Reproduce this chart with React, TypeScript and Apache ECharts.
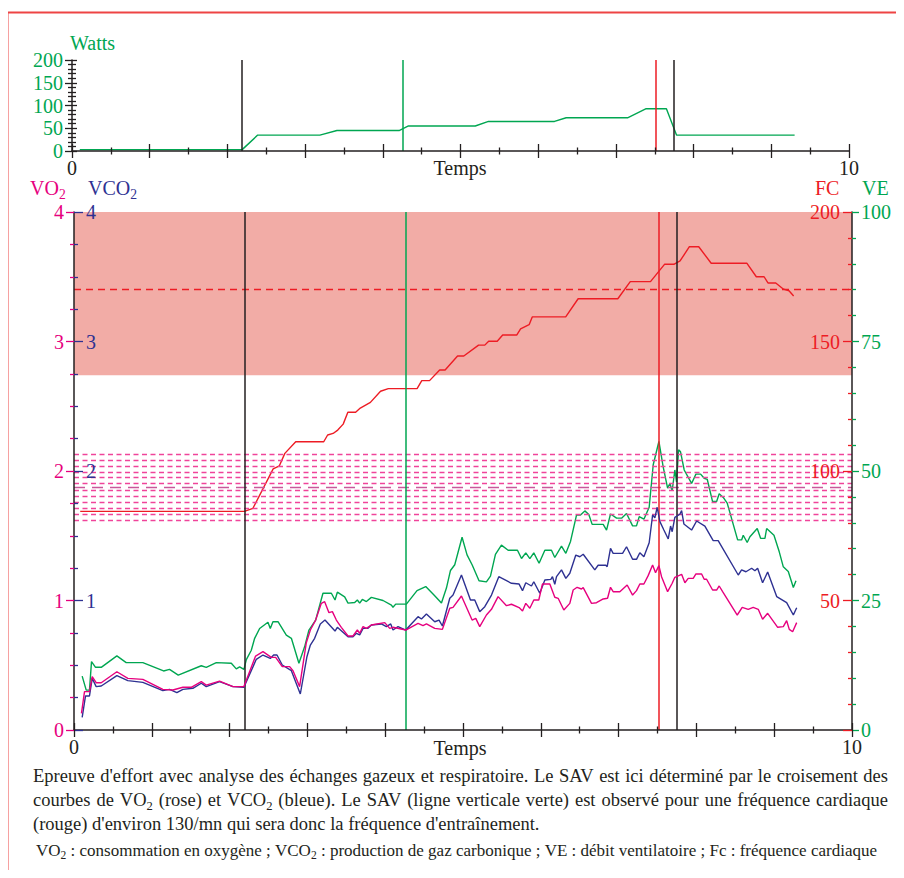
import React, { useEffect, useRef } from 'react';
import * as echarts from 'echarts';

const SERIF = "'Liberation Serif', 'Times New Roman', serif";
const INK = '#231f20';
const GREEN = '#00a651';
const MAGENTA = '#e6007e';
const NAVY = '#2e3192';
const RED = '#ed1c24';
const BAND = '#f2aca6';
const ZONE = '#f0449a';
const ZONE_MID = '#c9579a';
const FRAME = '#ee4444';

// Puissance sur ergocycle : [temps, watts]
const wattsPoints: [number, number][] = [
  [0.1, 3], [2.19, 3], [2.39, 35], [3.19, 35], [3.41, 45], [4.21, 45], [4.33, 55], [5.19, 55],
  [5.36, 65], [6.21, 65], [6.36, 73], [7.15, 73], [7.39, 93], [7.65, 93], [7.78, 35], [9.3, 35],
];

// Fréquence cardiaque : [temps, batt/min]
const fcPoints: [number, number][] = [
  [0.08, 84.4], [2.19, 84.4], [2.3, 85.6], [2.56, 100.8], [2.64, 102], [2.71, 106.8], [2.85, 111.3],
  [3.21, 111.3], [3.26, 113.9], [3.33, 114.5], [3.39, 115.8], [3.46, 118.1], [3.52, 122.7], [3.62, 122.7],
  [3.68, 124.3], [3.81, 126.5], [3.94, 130.8], [4.04, 131.8], [4.41, 131.8], [4.47, 134.9], [4.57, 134.9],
  [4.7, 139], [4.77, 139], [4.93, 144.4], [5.01, 144.4], [5.2, 148.6], [5.28, 148.6], [5.33, 150.1],
  [5.44, 150.1], [5.51, 152.5], [5.69, 152.5], [5.74, 154.9], [5.85, 156.5], [5.89, 159.5], [6.32, 159.5],
  [6.48, 166.5], [6.99, 166.5], [7.15, 173.1], [7.41, 173.1], [7.59, 179.8], [7.71, 179.8], [7.79, 181.1],
  [7.91, 186.6], [8.03, 186.6], [8.19, 180.2], [8.65, 180.2], [8.77, 175], [8.87, 175], [8.92, 172.6],
  [9.02, 172.6], [9.12, 170.2], [9.19, 169.6], [9.25, 167.6],
];

// Débit ventilatoire : [temps, L/min]
const vePoints: [number, number][] = [
  [0.105, 10.4], [0.157, 7.7], [0.199, 7.7], [0.225, 13.2], [0.277, 12.1], [0.35, 12.1], [0.551, 14.3],
  [0.671, 13.0], [0.885, 13.0], [1.151, 11.4], [1.228, 11.7], [1.34, 10.6], [1.636, 12.4], [1.7, 12.1],
  [1.829, 13.0], [2.022, 12.9], [2.086, 11.8], [2.129, 12.2], [2.184, 11.7], [2.215, 13.6], [2.279, 15.4],
  [2.322, 17.7], [2.386, 19.6], [2.493, 20.8], [2.523, 19.6], [2.557, 20.9], [2.622, 20.9], [2.729, 18.3],
  [2.794, 17.7], [2.891, 12.9], [2.965, 16.1], [3.02, 19.3], [3.106, 21.2], [3.2, 26.4], [3.308, 26.4],
  [3.355, 25.1], [3.385, 26.6], [3.479, 25.7], [3.522, 24.5], [3.608, 24.6], [3.642, 25.1], [3.672, 24.5],
  [3.706, 25.2], [3.758, 24.8], [3.822, 25.6], [3.972, 25.0], [4.08, 24.1], [4.1, 23.7], [4.135, 24.3],
  [4.272, 24.3], [4.409, 26.9], [4.521, 27.7], [4.624, 26.1], [4.723, 24.5], [4.787, 27.4], [4.839, 30.8],
  [4.894, 31.9], [4.988, 37.2], [5.052, 33.8], [5.117, 31.9], [5.206, 28.8], [5.301, 28.6], [5.353, 29.7],
  [5.417, 33.9], [5.494, 35.7], [5.58, 34.7], [5.7, 34.7], [5.752, 33.1], [5.807, 34.2], [5.859, 33.1],
  [5.91, 34.2], [5.978, 32.2], [6.052, 34.7], [6.137, 34.7], [6.18, 33.3], [6.266, 35.5], [6.322, 34.1],
  [6.382, 36.4], [6.459, 41.5], [6.51, 41.5], [6.566, 42.3], [6.617, 41.6], [6.66, 39.7], [6.802, 39.7],
  [6.845, 38.6], [6.896, 41.7], [6.974, 40.9], [7.038, 40.9], [7.102, 41.8], [7.18, 39.4], [7.23, 39.4],
  [7.265, 41.2], [7.325, 40.7], [7.393, 43.0], [7.445, 51.2], [7.518, 55.7], [7.573, 50.8], [7.63, 46.7],
  [7.659, 47.6], [7.689, 46.2], [7.723, 50.2], [7.745, 47.9], [7.771, 54.1], [7.796, 53.7], [7.843, 50.2],
  [7.938, 47.6], [7.994, 49.4], [8.054, 49.4], [8.1, 48.6], [8.139, 48.4], [8.208, 44.1], [8.26, 44.1],
  [8.293, 45.6], [8.345, 44.9], [8.396, 43.8], [8.53, 36.7], [8.581, 36.7], [8.602, 37.6], [8.653, 36.2],
  [8.688, 37.3], [8.782, 38.9], [8.825, 37.0], [8.881, 37.0], [8.903, 38.9], [8.997, 37.6], [9.065, 34.4],
  [9.117, 31.5], [9.181, 30.6], [9.246, 27.5], [9.28, 28.8],
];

// Production de CO2 : [temps, L/min]
const vco2Points: [number, number][] = [
  [0.105, 0.098], [0.148, 0.263], [0.199, 0.263], [0.234, 0.399], [0.285, 0.335], [0.35, 0.34],
  [0.551, 0.42], [0.692, 0.381], [0.885, 0.368], [1.142, 0.304], [1.228, 0.314], [1.322, 0.288],
  [1.4, 0.314], [1.528, 0.322], [1.636, 0.361], [1.7, 0.335], [1.871, 0.373], [2.043, 0.335], [2.184, 0.33],
  [2.343, 0.546], [2.429, 0.579], [2.523, 0.553], [2.566, 0.579], [2.609, 0.579], [2.677, 0.502],
  [2.794, 0.458], [2.909, 0.278], [2.994, 0.566], [3.038, 0.656], [3.093, 0.708], [3.166, 0.819],
  [3.226, 0.849], [3.355, 0.764], [3.385, 0.793], [3.522, 0.72], [3.586, 0.72], [3.629, 0.747],
  [3.672, 0.734], [3.715, 0.785], [3.779, 0.785], [3.822, 0.811], [3.951, 0.819], [4.015, 0.798],
  [4.071, 0.819], [4.1, 0.772], [4.165, 0.798], [4.264, 0.772], [4.422, 0.875], [4.466, 0.857],
  [4.53, 0.896], [4.637, 0.836], [4.692, 0.849], [4.735, 0.803], [4.83, 1.017], [4.872, 1.042],
  [4.98, 1.197], [5.096, 1.004], [5.151, 1.004], [5.215, 0.914], [5.28, 0.952], [5.366, 1.042],
  [5.46, 1.184], [5.559, 1.153], [5.623, 1.133], [5.721, 1.127], [5.765, 1.076], [5.807, 1.137],
  [5.88, 1.112], [5.91, 1.145], [5.987, 1.056], [6.052, 1.158], [6.129, 1.163], [6.15, 1.184],
  [6.18, 1.125], [6.202, 1.184], [6.266, 1.236], [6.322, 1.171], [6.373, 1.21], [6.45, 1.351],
  [6.502, 1.338], [6.545, 1.357], [6.694, 1.236], [6.737, 1.272], [6.836, 1.272], [6.853, 1.261],
  [6.896, 1.403], [6.93, 1.364], [7.051, 1.364], [7.102, 1.415], [7.18, 1.318], [7.23, 1.318],
  [7.273, 1.369], [7.325, 1.338], [7.393, 1.446], [7.437, 1.66], [7.466, 1.639], [7.496, 1.72],
  [7.531, 1.609], [7.582, 1.544], [7.638, 1.475], [7.668, 1.575], [7.689, 1.531], [7.723, 1.642],
  [7.787, 1.666], [7.81, 1.694], [7.839, 1.591], [7.938, 1.544], [8.003, 1.614], [8.109, 1.575],
  [8.216, 1.462], [8.28, 1.462], [8.538, 1.197], [8.581, 1.236], [8.637, 1.222], [8.71, 1.249],
  [8.752, 1.23], [8.787, 1.249], [8.851, 1.137], [8.916, 1.22], [9.032, 1.03], [9.16, 0.983],
  [9.246, 0.888], [9.289, 0.944],
];

// Consommation d'oxygène : [temps, L/min]
const vo2Points: [number, number][] = [
  [0.096, 0.129], [0.135, 0.296], [0.199, 0.296], [0.234, 0.412], [0.285, 0.365], [0.35, 0.365],
  [0.551, 0.45], [0.692, 0.399], [0.885, 0.391], [1.142, 0.314], [1.271, 0.309], [1.4, 0.33],
  [1.507, 0.33], [1.636, 0.373], [1.7, 0.347], [1.871, 0.378], [2.043, 0.335], [2.184, 0.335],
  [2.334, 0.571], [2.429, 0.605], [2.536, 0.561], [2.592, 0.561], [2.677, 0.489], [2.772, 0.489],
  [2.815, 0.458], [2.9, 0.335], [2.986, 0.674], [3.038, 0.772], [3.106, 0.849], [3.179, 0.978],
  [3.222, 0.991], [3.277, 0.906], [3.321, 0.914], [3.372, 0.849], [3.436, 0.793], [3.522, 0.726],
  [3.586, 0.726], [3.642, 0.772], [3.672, 0.747], [3.715, 0.798], [3.758, 0.785], [3.822, 0.811],
  [3.994, 0.829], [4.058, 0.785], [4.1, 0.793], [4.264, 0.772], [4.422, 0.824], [4.486, 0.806],
  [4.53, 0.819], [4.637, 0.785], [4.735, 0.777], [4.83, 0.94], [4.872, 0.947], [4.98, 1.035],
  [5.117, 0.849], [5.164, 0.862], [5.215, 0.798], [5.301, 0.888], [5.366, 0.932], [5.451, 1.03],
  [5.559, 0.96], [5.623, 0.971], [5.721, 0.945], [5.765, 0.919], [5.807, 0.978], [5.859, 0.94],
  [5.91, 1.004], [5.974, 1.004], [6.021, 1.127], [6.116, 1.127], [6.18, 1.025], [6.223, 1.017],
  [6.296, 0.927], [6.373, 0.978], [6.416, 1.081], [6.467, 1.102], [6.523, 1.089], [6.545, 1.099],
  [6.652, 0.978], [6.716, 0.983], [6.802, 1.012], [6.858, 1.017], [6.896, 1.102], [6.93, 1.068],
  [7.016, 1.068], [7.11, 1.12], [7.18, 1.042], [7.23, 1.076], [7.273, 1.127], [7.325, 1.127],
  [7.38, 1.192], [7.437, 1.274], [7.475, 1.215], [7.518, 1.269], [7.552, 1.184], [7.63, 1.068],
  [7.689, 1.133], [7.723, 1.179], [7.81, 1.202], [7.852, 1.137], [7.895, 1.171], [7.959, 1.171],
  [7.994, 1.205], [8.067, 1.205], [8.1, 1.164], [8.131, 1.164], [8.208, 1.081], [8.26, 1.081],
  [8.293, 1.112], [8.337, 1.068], [8.525, 0.888], [8.589, 0.947], [8.666, 0.932], [8.73, 0.947],
  [8.795, 0.932], [8.851, 0.855], [8.916, 0.901], [9.045, 0.793], [9.117, 0.798], [9.16, 0.844],
  [9.194, 0.777], [9.237, 0.759], [9.289, 0.829],
];

// Repères verticaux (début de l'effort, SAV, FC max, arrêt)
const markerTimes = [2.19, 4.26, 7.51, 7.75];
const markerColors = [INK, GREEN, RED, INK];

// Lignes de zones de fréquence cardiaque (batt/min)
const zoneLevels = [106.6, 104.2, 101.9, 99.6, 97.4, 95.1, 92.7, 90.3, 88.0, 85.7, 83.3, 81.0];
const zoneMidLevel = 93.8;
const fcReference = 170;
const fcBand = [137, 200];

// Étiquettes de l'axe des temps
const timeTickLabels = [0, 10];

const captionLines = [
  "Epreuve d'effort avec analyse des échanges gazeux et respiratoire. Le SAV est ici déterminé par le croisement des",
  'courbes de VO{2} (rose) et VCO{2} (bleue). Le SAV (ligne verticale verte) est observé pour une fréquence cardiaque',
  "(rouge) d'environ 130/mn qui sera donc la fréquence d'entraînement.",
];
const legendLine =
  'VO{2} : consommation en oxygène ; VCO{2} : production de gaz carbonique ; VE : débit ventilatoire ; Fc : fréquence cardiaque';

type Seg = { text: string; sub: boolean };

function parseSegs(s: string): Seg[] {
  return s
    .split(/(\{[^}]*\})/)
    .filter((p) => p.length > 0)
    .map((p) => (p.startsWith('{') ? { text: p.slice(1, -1), sub: true } : { text: p, sub: false }));
}

function makeMeasure() {
  const ctx = document.createElement('canvas').getContext('2d') as CanvasRenderingContext2D;
  return (text: string, size: number) => {
    ctx.font = `${size}px ${SERIF}`;
    return ctx.measureText(text).width;
  };
}

type Measure = (t: string, s: number) => number;

function segWidth(segs: Seg[], size: number, measure: Measure) {
  return segs.reduce((w, s) => w + measure(s.text, s.sub ? size * 0.68 : size), 0);
}

function runElements(segs: Seg[], x: number, y: number, size: number, color: string, measure: Measure) {
  const els: any[] = [];
  let cx = x;
  segs.forEach((seg) => {
    const fs = seg.sub ? size * 0.68 : size;
    els.push({
      type: 'text',
      x: cx,
      y: seg.sub ? y + size * 0.3 : y,
      silent: true,
      z: 50,
      style: { text: seg.text, font: `${fs}px ${SERIF}`, fill: color, align: 'left', verticalAlign: 'middle' },
    });
    cx += measure(seg.text, fs);
  });
  return els;
}

function lineElements(
  line: string, x: number, y: number, size: number, color: string, measure: Measure, justifyTo?: number,
) {
  const words = line.split(' ').map(parseSegs);
  const widths = words.map((w) => segWidth(w, size, measure));
  const total = widths.reduce((a, b) => a + b, 0);
  const space = measure(' ', size);
  let gap = space;
  if (justifyTo !== undefined && words.length > 1) {
    gap = Math.max(space * 0.6, (justifyTo - x - total) / (words.length - 1));
  }
  const els: any[] = [];
  let cx = x;
  words.forEach((w, i) => {
    els.push(...runElements(w, cx, y, size, color, measure));
    cx += widths[i] + gap;
  });
  return els;
}

function xAxisPair(gridIndex: number) {
  const common = {
    type: 'value', gridIndex, min: 0, max: 10, interval: 1, position: 'bottom', z: 10,
    splitLine: { show: false }, minorSplitLine: { show: false },
  };
  const tickStyle = { color: INK, width: 1.3 };
  return [
    {
      ...common,
      axisLine: { show: true, lineStyle: { color: INK, width: 1.5 } },
      axisTick: { show: true, length: 7, lineStyle: tickStyle },
      minorTick: { show: true, splitNumber: 2, length: 3.5, lineStyle: tickStyle },
      axisLabel: {
        show: true, margin: 7, fontSize: 20, fontFamily: SERIF, color: INK,
        formatter: (v: number) => (timeTickLabels.includes(v) ? String(v) : ''),
      },
    },
    {
      ...common,
      axisLine: { show: false },
      axisTick: { show: true, inside: true, length: 7, lineStyle: tickStyle },
      minorTick: { show: true, splitNumber: 2, length: 3.5, lineStyle: tickStyle },
      axisLabel: { show: false },
    },
  ];
}

function valueAxis(o: {
  gridIndex: number; position: string; max: number; interval: number; minor: number;
  color: string; tickColor: string; inside: boolean; showLine: boolean; showLabel: boolean;
  margin: number; tickLen: number; hideZero?: boolean;
}) {
  return {
    type: 'value', gridIndex: o.gridIndex, position: o.position, min: 0, max: o.max, interval: o.interval,
    z: 10,
    splitLine: { show: false }, minorSplitLine: { show: false },
    axisLine: { show: o.showLine, lineStyle: { color: INK, width: 1.5 } },
    axisTick: { show: true, inside: o.inside, length: o.tickLen, lineStyle: { color: o.tickColor, width: 1.3 } },
    minorTick: { show: true, splitNumber: o.minor, length: 4, lineStyle: { color: o.tickColor, width: 1.3 } },
    axisLabel: {
      show: o.showLabel, inside: o.inside, margin: o.margin, fontSize: 20, fontFamily: SERIF, color: o.color,
      formatter: (v: number) => (o.hideZero && v === 0 ? '' : String(v)),
    },
  };
}

function verticalMarkers() {
  return markerTimes.map((t, i) => ({
    xAxis: t,
    lineStyle: { color: markerColors[i], width: 1.5, type: 'solid' },
  }));
}

export default function App() {
  const ref = useRef<HTMLDivElement>(null);

  useEffect(() => {
    if (!ref.current) return;
    const chart = echarts.init(ref.current, undefined, { renderer: 'svg' });
    const measure = makeMeasure();

    // Légende sous le graphique
    const refSize = 20;
    const capSize = Math.min(18.5, Math.max(14, (refSize * 552) / measure(captionLines[2], refSize)));
    const legSize = Math.min(17, Math.max(12, (refSize * 850) / segWidth(parseSegs(legendLine), refSize, measure)));

    const texts: any[] = [
      ...runElements(parseSegs('Watts'), 70, 43, 20, GREEN, measure),
      ...runElements(parseSegs('VO{2}'), 30, 188, 20, MAGENTA, measure),
      ...runElements(parseSegs('VCO{2}'), 88, 188, 20, NAVY, measure),
      ...runElements(parseSegs('FC'), 815, 188, 20, RED, measure),
      ...runElements(parseSegs('VE'), 862, 188, 20, GREEN, measure),
      {
        type: 'text', x: 460, y: 168, silent: true,
        style: { text: 'Temps', font: `20px ${SERIF}`, fill: INK, align: 'center', verticalAlign: 'middle' },
      },
      {
        type: 'text', x: 460, y: 748, silent: true,
        style: { text: 'Temps', font: `20px ${SERIF}`, fill: INK, align: 'center', verticalAlign: 'middle' },
      },
      ...lineElements(captionLines[0], 33, 776, capSize, INK, measure, 888),
      ...lineElements(captionLines[1], 33, 800, capSize, INK, measure, 888),
      ...lineElements(captionLines[2], 33, 824, capSize, INK, measure),
      ...lineElements(legendLine, 36, 850, legSize, INK, measure),
    ];

    const lineSeries = (name: string, data: [number, number][], yAxisIndex: number, color: string, z: number) => ({
      name, type: 'line', xAxisIndex: 2, yAxisIndex, data, showSymbol: false, symbol: 'none', z,
      lineStyle: { color, width: 1.4 }, itemStyle: { color }, silent: true,
    });

    chart.setOption({
      animation: false,
      backgroundColor: '#ffffff',
      grid: [
        { left: 72, top: 60, width: 777, height: 91 },
        { left: 74, top: 212, width: 778, height: 518 },
      ],
      xAxis: [...xAxisPair(0), ...xAxisPair(1)],
      yAxis: [
        valueAxis({ gridIndex: 0, position: 'left', max: 200, interval: 50, minor: 5, color: GREEN, tickColor: INK,
          inside: false, showLine: true, showLabel: true, margin: 9, tickLen: 7 }),
        valueAxis({ gridIndex: 0, position: 'left', max: 200, interval: 50, minor: 5, color: GREEN, tickColor: INK,
          inside: true, showLine: false, showLabel: false, margin: 9, tickLen: 5 }),
        valueAxis({ gridIndex: 1, position: 'left', max: 4, interval: 1, minor: 4, color: MAGENTA, tickColor: MAGENTA,
          inside: false, showLine: true, showLabel: true, margin: 10, tickLen: 8 }),
        valueAxis({ gridIndex: 1, position: 'left', max: 4, interval: 1, minor: 4, color: NAVY, tickColor: NAVY,
          inside: true, showLine: false, showLabel: true, margin: 12, tickLen: 9, hideZero: true }),
        valueAxis({ gridIndex: 1, position: 'right', max: 200, interval: 50, minor: 5, color: RED, tickColor: RED,
          inside: true, showLine: true, showLabel: true, margin: 12, tickLen: 9, hideZero: true }),
        valueAxis({ gridIndex: 1, position: 'right', max: 100, interval: 25, minor: 5, color: GREEN, tickColor: GREEN,
          inside: false, showLine: false, showLabel: true, margin: 9, tickLen: 7 }),
      ],
      series: [
        {
          name: 'Watts', type: 'line', xAxisIndex: 0, yAxisIndex: 0, data: wattsPoints, symbol: 'none',
          showSymbol: false, silent: true, lineStyle: { color: GREEN, width: 1.4 },
          markLine: { symbol: ['none', 'none'], silent: true, label: { show: false }, data: verticalMarkers() },
        },
        {
          ...lineSeries('FC', fcPoints, 4, RED, 3),
          markArea: {
            silent: true,
            itemStyle: { color: BAND, opacity: 1 },
            data: [[{ yAxis: fcBand[0] }, { yAxis: fcBand[1] }]],
          },
          markLine: {
            symbol: ['none', 'none'], silent: true, label: { show: false },
            data: [
              ...zoneLevels.map((v) => ({ yAxis: v, lineStyle: { color: ZONE, width: 1.4, type: [5, 3.5] } })),
              { yAxis: zoneMidLevel, lineStyle: { color: ZONE_MID, width: 1.4, type: [11, 7] } },
              { yAxis: fcReference, lineStyle: { color: RED, width: 1.3, type: [7, 5] } },
              ...verticalMarkers(),
            ],
          },
        },
        lineSeries('VE', vePoints, 5, GREEN, 4),
        lineSeries('VCO2', vco2Points, 3, NAVY, 5),
        lineSeries('VO2', vo2Points, 2, MAGENTA, 6),
      ],
      graphic: [
        {
          type: 'polyline', silent: true, z: 100, x: 0, y: 0,
          shape: { points: [[7.5, 900], [7.5, 12.5], [910, 12.5]] },
          style: { stroke: FRAME, lineWidth: 2, fill: null },
        },
        ...texts,
      ],
    });

    return () => chart.dispose();
  }, []);

  return <div ref={ref} style={{ width: 904, height: 878, margin: -8 }} />;
}
